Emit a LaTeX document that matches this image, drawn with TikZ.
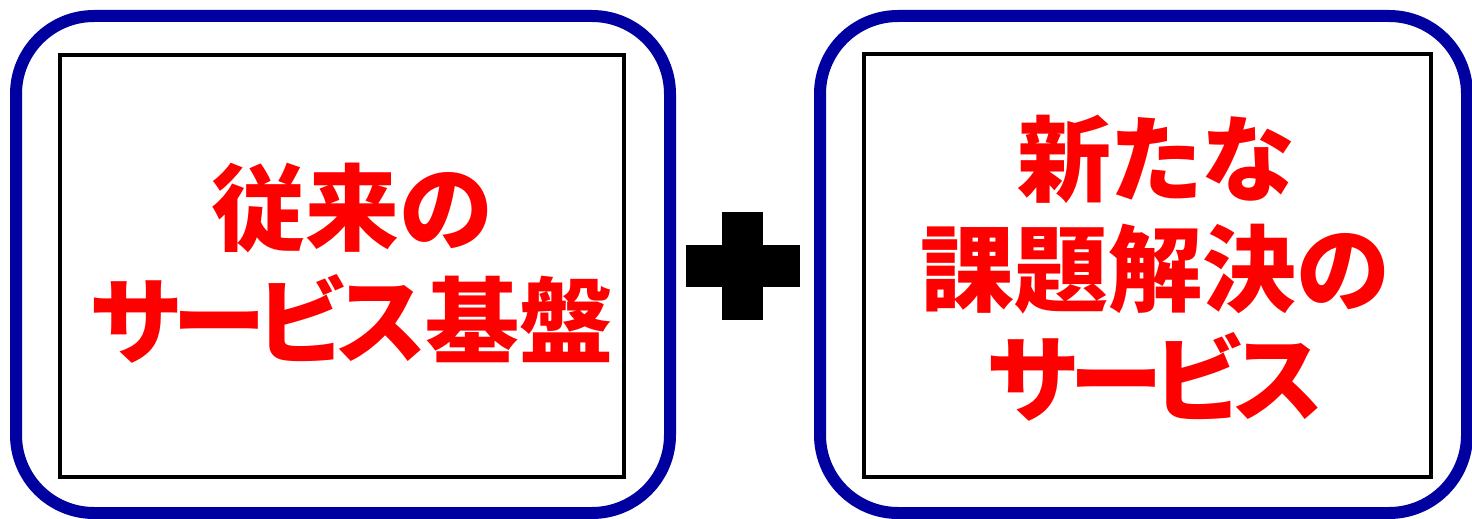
\documentclass[tikz,border=0pt]{standalone}
\usepackage{fontspec}
\newfontfamily\cjk[RawFeature=+palt]{Noto Sans CJK JP}
\newfontfamily\cjknarrow[RawFeature=+palt,LetterSpace=-7]{Noto Sans CJK JP}
\definecolor{boxblue}{RGB}{0,0,160}
\definecolor{txtred}{RGB}{255,0,0}
\begin{document}
\begin{tikzpicture}[x=1pt,y=-1pt,
  outerbox/.style={draw=boxblue,line width=12pt,rounded corners=78pt,inner sep=0pt,outer sep=0pt},
  innerbox/.style={draw=black,line width=4pt,inner sep=0pt,outer sep=0pt},
  bigtext/.style={text=txtred,align=center,inner sep=0pt,font=\cjk\bfseries\fontsize{94}{113}\selectfont},
  plusbar/.style={fill=black,inner sep=0pt,outer sep=0pt}]
\useasboundingbox (0,0) rectangle (1472,519);
\node[outerbox,minimum width=654pt,minimum height=497pt] (outerL) at (343,264.5) {};
\node[innerbox,minimum width=564pt,minimum height=422pt] (innerL) at (342,266) {};
\node[outerbox,minimum width=647pt,minimum height=497pt] (outerR) at (1143.5,264.5) {};
\node[innerbox,minimum width=567pt,minimum height=423pt] (innerR) at (1147.5,265.5) {};
\node[plusbar,minimum width=114pt,minimum height=42pt] (plusH) at (743,266) {};
\node[plusbar,minimum width=41pt,minimum height=108pt] (plusV) at (742.5,266) {};
\node[bigtext] (textL) at (352,263) {従来の\\{\cjknarrow\bfseries サービス}基盤};
\node[bigtext,font=\cjk\bfseries\fontsize{94}{110}\selectfont] (textR) at (1155,268) {新たな\\課題解決の\\{\cjknarrow\bfseries サービス}};
\end{tikzpicture}
\end{document}
